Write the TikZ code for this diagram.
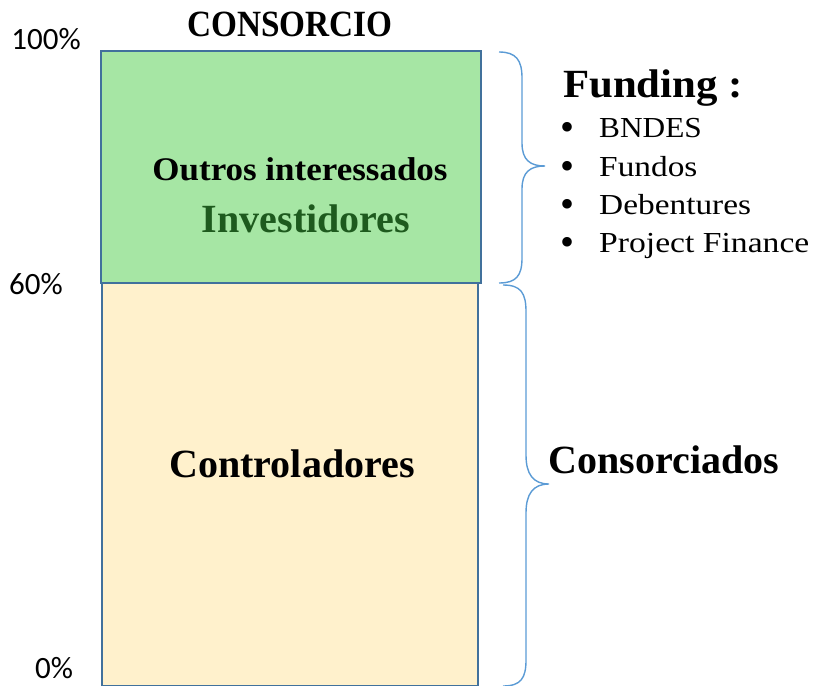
\documentclass[tikz,border=0pt]{standalone}
\usepackage{fontspec}
\setmainfont{Liberation Serif}
\newfontfamily\calib{Carlito}
\definecolor{boxline}{HTML}{41719C}
\definecolor{greenfill}{HTML}{A6E6A4}
\definecolor{yellowfill}{HTML}{FFF1CC}
\definecolor{bracecol}{HTML}{5B9BD5}
\definecolor{darkgreen}{HTML}{1E5A1E}
\tikzset{
  box/.style={draw=boxline, line width=2.2pt},
  bracepath/.style={draw=bracecol, line width=1.4pt},
  pct/.style={font=\calib\fontsize{31}{36}\selectfont, inner sep=0pt},
  bigb/.style={font=\bfseries\fontsize{40}{48}\selectfont, inner sep=0pt, anchor=base},
  item/.style={font=\fontsize{29}{34}\selectfont, inner sep=0pt, anchor=base west},
  bul/.style={font=\fontsize{40}{40}\selectfont, inner sep=0pt, anchor=base west},
}
\begin{document}
\begin{tikzpicture}[x=1pt,y=-1pt]
\useasboundingbox (0,0) rectangle (813,685);
% boxes
\draw[box, fill=yellowfill] (102,283) rectangle (478,686);
\draw[box, fill=greenfill] (101,51) rectangle (481,283);
% braces
\draw[bracepath] (499,52) .. controls (516,52) and (522,60) .. (522,78) -- (522,143)
  .. controls (522,160) and (530,166) .. (545,166)
  .. controls (530,166) and (522,172) .. (522,189) -- (522,258)
  .. controls (522,276) and (516,283) .. (499,283);
\draw[bracepath] (503,285) .. controls (521,285) and (526,293) .. (526,312) -- (526,455)
  .. controls (526,474) and (533,484) .. (549,484)
  .. controls (533,484) and (526,494) .. (526,513) -- (526,660)
  .. controls (526,678) and (521,686) .. (503,686);
% titles
\node[bigb, font=\bfseries\fontsize{37}{42}\selectfont] (title) at (290,37) {\scalebox{0.9}[1]{CONSORCIO}};
\node[pct] (p100) at (46,39) {100\%};
\node[pct] (p60) at (36,284) {60\%};
\node[pct] (p0) at (54,668) {0\%};
% box texts
\node[bigb, font=\bfseries\fontsize{33}{40}\selectfont] (outros) at (300,180) {\scalebox{1.06}[1]{Outros interessados}};
\node[bigb, text=darkgreen] (invest) at (306,232) {Investidores};
\node[bigb] (control) at (292,477) {Controladores};
\node[bigb] (consorc) at (664,473) {Consorciados};
\node[bigb, anchor=base west] (funding) at (563,97) {\scalebox{1.07}[1]{Funding :}};
% list
\node[bul] (b1) at (560,140) {\textbullet};
\node[item] (t1) at (599,137) {\scalebox{1.08}[1]{BNDES}};
\node[bul] (b2) at (560,179) {\textbullet};
\node[item] (t2) at (599,176) {\scalebox{1.15}[1]{Fundos}};
\node[bul] (b3) at (560,217) {\textbullet};
\node[item] (t3) at (599,214) {\scalebox{1.15}[1]{Debentures}};
\node[bul] (b4) at (560,255) {\textbullet};
\node[item] (t4) at (599,252) {\scalebox{1.16}[1]{Project Finance}};
\end{tikzpicture}
\end{document}
